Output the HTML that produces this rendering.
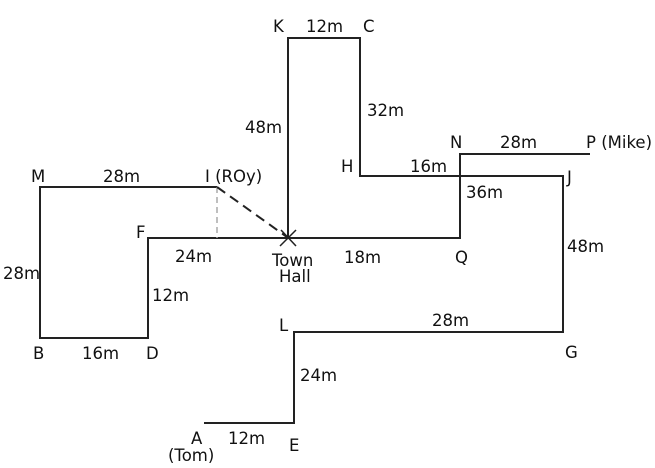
<!DOCTYPE html>
<html><head><style>html,body{margin:0;padding:0;background:#fff}</style></head><body>
<svg width="655" height="468" xmlns="http://www.w3.org/2000/svg" style="display:block">
<g stroke="#222" stroke-width="2" fill="none">
<polyline points="217,187 40,187 40,338 148,338 148,238 460,238 460,154 590,154"/>
<polyline points="288,238 288,38 360,38 360,176 563,176 563,332 294,332 294,423 204,423"/>
</g>
<line x1="217" y1="187" x2="217" y2="238" stroke="#aaa" stroke-width="1.5" stroke-dasharray="6,4"/>
<line x1="217" y1="187" x2="287" y2="237" stroke="#222" stroke-width="2" stroke-dasharray="10,6"/>
<line x1="281" y1="230" x2="296" y2="246" stroke="#222" stroke-width="1.5"/>
<line x1="296" y1="230" x2="280" y2="246" stroke="#222" stroke-width="1.5"/>
<g font-family="DejaVu Sans, Verdana, sans-serif" font-size="16.5" fill="#111">
<text x="273" y="32">K</text><text x="306" y="32">12m</text><text x="363" y="32">C</text>
<text x="245" y="133">48m</text><text x="367" y="116">32m</text>
<text x="341" y="172">H</text><text x="410" y="172">16m</text>
<text x="450" y="148">N</text><text x="500" y="148">28m</text><text x="586" y="148">P (Mike)</text>
<text x="567" y="183">J</text><text x="466" y="198">36m</text>
<text x="567" y="252">48m</text><text x="455" y="263">Q</text>
<text x="344" y="263">18m</text>
<text x="272" y="266">Town</text><text x="279" y="282">Hall</text>
<text x="31" y="182">M</text><text x="103" y="182">28m</text><text x="205" y="182">I (ROy)</text>
<text x="136" y="238">F</text><text x="175" y="262">24m</text>
<text x="3" y="279">28m</text><text x="152" y="301">12m</text>
<text x="33" y="359">B</text><text x="82" y="359">16m</text><text x="146" y="359">D</text>
<text x="279" y="331">L</text><text x="432" y="326">28m</text><text x="565" y="358">G</text>
<text x="300" y="381">24m</text>
<text x="191" y="444">A</text><text x="228" y="444">12m</text><text x="289" y="451">E</text>
<text x="168" y="461">(Tom)</text>
</g>
</svg>
</body></html>
